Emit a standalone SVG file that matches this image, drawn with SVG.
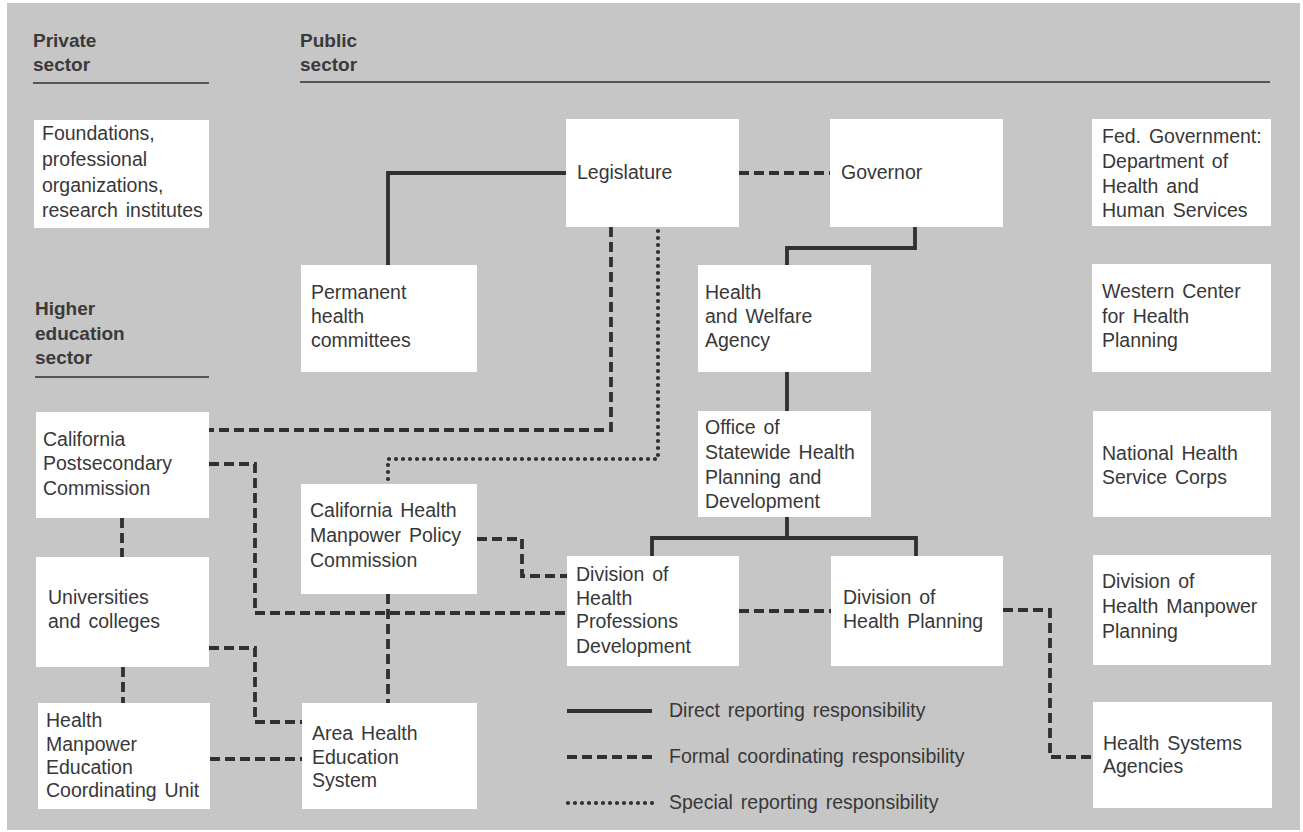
<svg xmlns="http://www.w3.org/2000/svg" width="1303" height="832" viewBox="0 0 1303 832">
<style>
.box{fill:#ffffff}
.t{font-family:"Liberation Sans",Arial,Helvetica,sans-serif;font-size:19.5px;fill:#383838;word-spacing:2.5px}
.h{font-family:"Liberation Sans",Arial,Helvetica,sans-serif;font-size:19px;font-weight:bold;fill:#3a3a3a}
.rule{stroke:#555555;stroke-width:2.2;fill:none}
.solid{stroke:#303030;stroke-width:3.8;fill:none}
.dash{stroke:#303030;stroke-width:3.8;fill:none;stroke-dasharray:10 5}
.dot{stroke:#303030;stroke-width:4.2;fill:none;stroke-dasharray:0 7;stroke-linecap:round}
</style>
<rect x="0" y="0" width="1303" height="832" fill="#ffffff"/>
<rect x="7" y="3" width="1293" height="827" fill="#c6c6c6"/>

<g id="headings">
<text class="h" x="33" y="47">Private</text>
<text class="h" x="33" y="71">sector</text>
<line class="rule" x1="33" y1="83" x2="209" y2="83"/>
<text class="h" x="300" y="47">Public</text>
<text class="h" x="300" y="71">sector</text>
<line class="rule" x1="300" y1="82" x2="1270" y2="82"/>
<text class="h" x="35" y="315">Higher</text>
<text class="h" x="35" y="340">education</text>
<text class="h" x="35" y="364">sector</text>
<line class="rule" x1="35" y1="377" x2="209" y2="377"/>
</g>

<g id="connectors">
<!-- direct -->
<path class="solid" d="M566,173 H388 V265"/>
<path class="solid" d="M915,227 V248 H787 V265"/>
<path class="solid" d="M787,372 V411"/>
<path class="solid" d="M787,517 V538"/>
<path class="solid" d="M652,556 V538 H916 V556"/>
<!-- formal -->
<path class="dash" d="M739,173 H830"/>
<path class="dash" d="M611,227 V430 H209"/>
<path class="dash" d="M209,464 H255 V613 H567"/>
<path class="dash" d="M477,539 H522 V576 H567"/>
<path class="dash" d="M388,594 V703"/>
<path class="dash" d="M122,518 V557"/>
<path class="dash" d="M123,667 V703"/>
<path class="dash" d="M209,648 H255 V722 H302"/>
<path class="dash" d="M210,759 H302"/>
<path class="dash" d="M739,611 H831"/>
<path class="dash" d="M1003,610 H1050 V757 H1093"/>
<!-- special -->
<path class="dot" d="M658,231 V459 H388 V481"/>
</g>

<g id="n-foundations"><rect class="box" x="34" y="120" width="175" height="108"/>
<text class="t" x="42" y="140">Foundations,</text><text class="t" x="42" y="166">professional</text><text class="t" x="42" y="192">organizations,</text><text class="t" x="42" y="217">research institutes</text></g>

<g id="n-legislature"><rect class="box" x="566" y="119" width="173" height="108"/>
<text class="t" x="577" y="179">Legislature</text></g>

<g id="n-governor"><rect class="box" x="830" y="119" width="173" height="108"/>
<text class="t" x="841" y="179">Governor</text></g>

<g id="n-fed"><rect class="box" x="1092" y="119" width="179" height="107"/>
<text class="t" x="1102" y="143">Fed. Government:</text><text class="t" x="1102" y="168">Department of</text><text class="t" x="1102" y="193">Health and</text><text class="t" x="1102" y="217">Human Services</text></g>

<g id="n-permanent"><rect class="box" x="301" y="265" width="176" height="107"/>
<text class="t" x="311" y="299">Permanent</text><text class="t" x="311" y="323">health</text><text class="t" x="311" y="347">committees</text></g>

<g id="n-hwa"><rect class="box" x="698" y="265" width="173" height="107"/>
<text class="t" x="705" y="299">Health</text><text class="t" x="705" y="323">and Welfare</text><text class="t" x="705" y="347">Agency</text></g>

<g id="n-western"><rect class="box" x="1092" y="264" width="179" height="108"/>
<text class="t" x="1102" y="298">Western Center</text><text class="t" x="1102" y="323">for Health</text><text class="t" x="1102" y="347">Planning</text></g>

<g id="n-office"><rect class="box" x="698" y="411" width="173" height="106"/>
<text class="t" x="705" y="434">Office of</text><text class="t" x="705" y="459">Statewide Health</text><text class="t" x="705" y="484">Planning and</text><text class="t" x="705" y="508">Development</text></g>

<g id="n-nhsc"><rect class="box" x="1093" y="411" width="178" height="106"/>
<text class="t" x="1102" y="460">National Health</text><text class="t" x="1102" y="484">Service Corps</text></g>

<g id="n-postsecondary"><rect class="box" x="36" y="412" width="173" height="106"/>
<text class="t" x="43" y="446">California</text><text class="t" x="43" y="470">Postsecondary</text><text class="t" x="43" y="495">Commission</text></g>

<g id="n-policy"><rect class="box" x="301" y="484" width="176" height="110"/>
<text class="t" x="310" y="517">California Health</text><text class="t" x="310" y="542">Manpower Policy</text><text class="t" x="310" y="567">Commission</text></g>

<g id="n-universities"><rect class="box" x="36" y="557" width="173" height="110"/>
<text class="t" x="48" y="604">Universities</text><text class="t" x="48" y="628">and colleges</text></g>

<g id="n-dhpd"><rect class="box" x="567" y="556" width="172" height="110"/>
<text class="t" x="576" y="581">Division of</text><text class="t" x="576" y="605">Health</text><text class="t" x="576" y="628">Professions</text><text class="t" x="576" y="653">Development</text></g>

<g id="n-dhp"><rect class="box" x="831" y="556" width="172" height="110"/>
<text class="t" x="843" y="604">Division of</text><text class="t" x="843" y="628">Health Planning</text></g>

<g id="n-dhmp"><rect class="box" x="1093" y="555" width="178" height="110"/>
<text class="t" x="1102" y="588">Division of</text><text class="t" x="1102" y="613">Health Manpower</text><text class="t" x="1102" y="638">Planning</text></g>

<g id="n-hmecu"><rect class="box" x="38" y="703" width="172" height="106"/>
<text class="t" x="46" y="727">Health</text><text class="t" x="46" y="751">Manpower</text><text class="t" x="46" y="774">Education</text><text class="t" x="46" y="797">Coordinating Unit</text></g>

<g id="n-ahes"><rect class="box" x="302" y="703" width="175" height="106"/>
<text class="t" x="312" y="740">Area Health</text><text class="t" x="312" y="764">Education</text><text class="t" x="312" y="787">System</text></g>

<g id="n-hsa"><rect class="box" x="1093" y="702" width="179" height="106"/>
<text class="t" x="1103" y="750">Health Systems</text><text class="t" x="1103" y="773">Agencies</text></g>

<g id="legend">
<line class="solid" x1="567" y1="711" x2="652" y2="711"/>
<text class="t" x="669" y="717">Direct reporting responsibility</text>
<line class="dash" x1="567" y1="757" x2="652" y2="757"/>
<text class="t" x="669" y="763">Formal coordinating responsibility</text>
<line class="dot" x1="568" y1="803" x2="655" y2="803"/>
<text class="t" x="669" y="809">Special reporting responsibility</text>
</g>
</svg>
